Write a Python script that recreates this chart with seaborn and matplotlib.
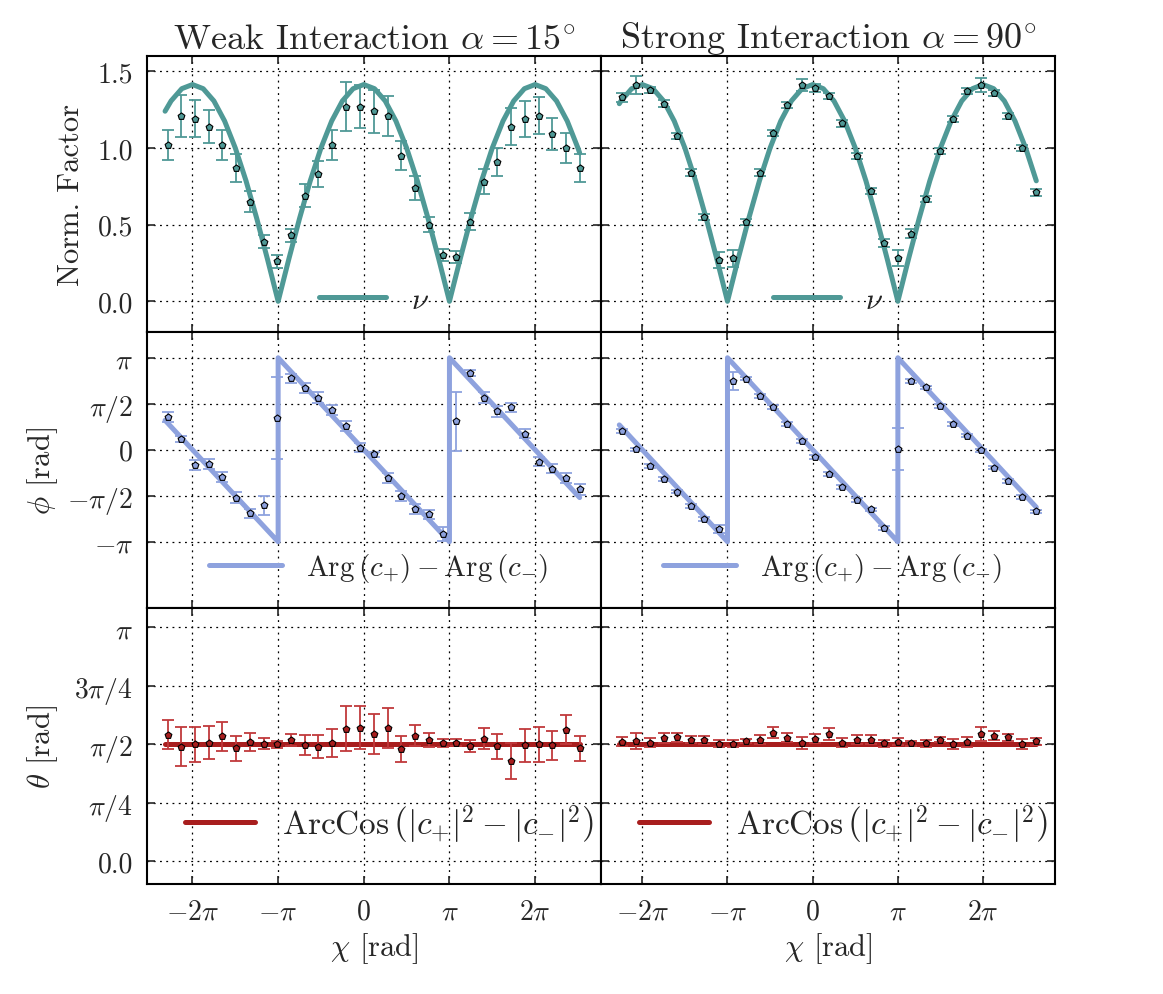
import matplotlib
matplotlib.use("Agg")
import matplotlib.pyplot as plt
import seaborn as sns

# chi positions of the measured points, in units of pi
chi_weak = [-2.29, -2.13, -1.97, -1.81, -1.65, -1.49, -1.33, -1.17, -1.01, -0.85, -0.69,
            -0.53, -0.37, -0.21, -0.05, 0.12, 0.28, 0.44, 0.60, 0.76, 0.92, 1.08,
            1.24, 1.40, 1.56, 1.72, 1.88, 2.04, 2.20, 2.36, 2.52]
chi_strong = [-2.24, -2.07, -1.91, -1.75, -1.59, -1.43, -1.27, -1.10, -0.94, -0.78, -0.62,
              -0.46, -0.30, -0.13, 0.03, 0.19, 0.35, 0.52, 0.68, 0.84, 1.00, 1.16,
              1.33, 1.49, 1.65, 1.81, 1.97, 2.13, 2.29, 2.46, 2.62]

# normalisation factor nu
nu_weak = [1.02, 1.21, 1.19, 1.14, 1.02, 0.87, 0.65, 0.39, 0.26, 0.43, 0.69,
           0.83, 1.02, 1.27, 1.27, 1.24, 1.21, 0.95, 0.74, 0.50, 0.30, 0.29,
           0.52, 0.78, 0.91, 1.14, 1.19, 1.21, 1.09, 1.00, 0.87]
nu_weak_err = [0.10, 0.135, 0.12, 0.11, 0.10, 0.09, 0.07, 0.04, 0.04, 0.045, 0.077,
               0.087, 0.10, 0.158, 0.14, 0.14, 0.13, 0.095, 0.08, 0.05, 0.04, 0.04,
               0.055, 0.083, 0.092, 0.12, 0.115, 0.12, 0.103, 0.097, 0.09]
nu_strong = [1.33, 1.41, 1.38, 1.29, 1.08, 0.84, 0.55, 0.27, 0.28, 0.52, 0.84,
             1.10, 1.28, 1.41, 1.39, 1.34, 1.16, 0.95, 0.72, 0.38, 0.28, 0.44,
             0.67, 0.98, 1.19, 1.37, 1.41, 1.36, 1.21, 1.00, 0.71]
nu_strong_err = [0.027, 0.06, 0.02, 0.02, 0.02, 0.02, 0.02, 0.05, 0.053, 0.02, 0.02,
                 0.02, 0.02, 0.04, 0.025, 0.02, 0.02, 0.02, 0.02, 0.025, 0.052, 0.03,
                 0.02, 0.02, 0.02, 0.02, 0.045, 0.02, 0.02, 0.02, 0.02]

# relative phase phi, in units of pi
phi_weak = [0.355, 0.114, -0.165, -0.154, -0.297, -0.524, -0.689, -0.604, 0.344, 0.777, 0.670,
            0.564, 0.436, 0.256, 0.022, -0.051, -0.308, -0.502, -0.645, -0.700, -0.916, 0.308,
            0.835, 0.564, 0.418, 0.462, 0.176, -0.128, -0.205, -0.308, -0.432]
phi_weak_err = [0.055, 0.03, 0.05, 0.05, 0.055, 0.06, 0.05, 0.10, 0.445, 0.05, 0.055,
                0.06, 0.055, 0.055, 0.05, 0.03, 0.05, 0.05, 0.05, 0.05, 0.077, 0.317,
                0.035, 0.06, 0.06, 0.05, 0.05, 0.05, 0.048, 0.05, 0.06]
phi_strong = [0.205, 0.004, -0.176, -0.315, -0.454, -0.612, -0.751, -0.861, 0.747, 0.773, 0.586,
              0.462, 0.278, 0.092, -0.081, -0.260, -0.407, -0.546, -0.648, -0.850, 0.011, 0.747,
              0.678, 0.476, 0.278, 0.154, -0.007, -0.194, -0.341, -0.513, -0.670]
phi_strong_err = [0.02, 0.02, 0.02, 0.02, 0.02, 0.02, 0.02, 0.045, 0.10, 0.02, 0.02,
                  0.02, 0.02, 0.02, 0.02, 0.02, 0.02, 0.02, 0.02, 0.02, 0.23, 0.02,
                  0.02, 0.02, 0.02, 0.02, 0.02, 0.02, 0.02, 0.02, 0.02]

# polar angle theta, in units of pi
theta_weak = [0.540, 0.490, 0.500, 0.507, 0.533, 0.482, 0.510, 0.503, 0.499, 0.517, 0.497,
              0.490, 0.504, 0.567, 0.571, 0.543, 0.568, 0.479, 0.536, 0.517, 0.507, 0.507,
              0.493, 0.524, 0.491, 0.429, 0.496, 0.499, 0.496, 0.561, 0.482]
theta_weak_err = [0.0625, 0.082, 0.075, 0.07, 0.062, 0.053, 0.04, 0.024, 0.016, 0.026, 0.044,
                  0.05, 0.06, 0.098, 0.092, 0.085, 0.085, 0.057, 0.045, 0.029, 0.017, 0.014,
                  0.027, 0.046, 0.053, 0.078, 0.07, 0.075, 0.062, 0.062, 0.053]
theta_strong = [0.511, 0.513, 0.507, 0.526, 0.530, 0.520, 0.518, 0.503, 0.503, 0.514, 0.520,
                0.550, 0.528, 0.504, 0.524, 0.544, 0.507, 0.520, 0.520, 0.504, 0.510, 0.504,
                0.504, 0.520, 0.501, 0.510, 0.545, 0.536, 0.530, 0.501, 0.513]
theta_strong_err = [0.02, 0.034, 0.02, 0.02, 0.02, 0.015, 0.015, 0.015, 0.015, 0.01, 0.02,
                    0.022, 0.02, 0.025, 0.02, 0.025, 0.02, 0.02, 0.02, 0.015, 0.015, 0.01,
                    0.015, 0.01, 0.02, 0.02, 0.03, 0.02, 0.015, 0.02, 0.015]

# theory curves (x in units of pi)
nu_line_x_weak = [-2.32, -2.25, -2.125, -2.0, -1.875, -1.75, -1.625, -1.5, -1.375, -1.25,
                  -1.125, -1.0, -0.875, -0.75, -0.625, -0.5, -0.375, -0.25, -0.125, 0.0,
                  0.125, 0.25, 0.375, 0.5, 0.625, 0.75, 0.875, 1.0, 1.125, 1.25, 1.375,
                  1.5, 1.625, 1.75, 1.875, 2.0, 2.125, 2.25, 2.375, 2.5, 2.52]
nu_line_y_weak = [1.24, 1.307, 1.387, 1.414, 1.387, 1.307, 1.176, 1.0, 0.786, 0.541,
                  0.276, 0.0, 0.276, 0.541, 0.786, 1.0, 1.176, 1.307, 1.387, 1.414,
                  1.387, 1.307, 1.176, 1.0, 0.786, 0.541, 0.276, 0.0, 0.276, 0.541, 0.786,
                  1.0, 1.176, 1.307, 1.387, 1.414, 1.387, 1.307, 1.176, 1.0, 0.968]
nu_line_x_strong = [-2.27, -2.25, -2.125, -2.0, -1.875, -1.75, -1.625, -1.5, -1.375, -1.25,
                    -1.125, -1.0, -0.875, -0.75, -0.625, -0.5, -0.375, -0.25, -0.125, 0.0,
                    0.125, 0.25, 0.375, 0.5, 0.625, 0.75, 0.875, 1.0, 1.125, 1.25, 1.375,
                    1.5, 1.625, 1.75, 1.875, 2.0, 2.125, 2.25, 2.375, 2.5, 2.625]
nu_line_y_strong = [1.289, 1.307, 1.387, 1.414, 1.387, 1.307, 1.176, 1.0, 0.786, 0.541,
                    0.276, 0.0, 0.276, 0.541, 0.786, 1.0, 1.176, 1.307, 1.387, 1.414,
                    1.387, 1.307, 1.176, 1.0, 0.786, 0.541, 0.276, 0.0, 0.276, 0.541, 0.786,
                    1.0, 1.176, 1.307, 1.387, 1.414, 1.387, 1.307, 1.176, 1.0, 0.786]
phi_line_x_weak = [-2.32, -1.0, -1.0, 1.0, 1.0, 2.52]
phi_line_y_weak = [0.32, -1.0, 1.0, -1.0, 1.0, -0.52]
phi_line_x_strong = [-2.27, -1.0, -1.0, 1.0, 1.0, 2.625]
phi_line_y_strong = [0.27, -1.0, 1.0, -1.0, 1.0, -0.625]
theta_line_x_weak = [-2.32, 2.52]
theta_line_x_strong = [-2.27, 2.625]
theta_line_y = [0.5, 0.5]

titles = [r"Weak Interaction $\alpha = 15^{\circ}$", r"Strong Interaction $\alpha = 90^{\circ}$"]
xticks = [-2, -1, 0, 1, 2]
xticklabels = [r"$-2\pi$", r"$-\pi$", r"$0$", r"$\pi$", r"$2\pi$"]

teal = "#4f9996"
blue = "#8ea2de"
red = "#a81e1e"
red_err = "#c0393b"

sns.set_style("ticks")
plt.rcParams.update({
    "font.family": "serif",
    "font.serif": ["cmr10", "DejaVu Serif"],
    "mathtext.fontset": "cm",
    "axes.unicode_minus": False,
    "axes.linewidth": 1.5,
    "axes.edgecolor": "black",
})

fig, axes = plt.subplots(3, 2, figsize=(11.63, 9.95), dpi=100)
fig.subplots_adjust(left=0.1264, right=0.9071, top=0.9427, bottom=0.1106,
                    wspace=0, hspace=0)

cols = [
    dict(chi=chi_weak, nu=nu_weak, nu_err=nu_weak_err, phi=phi_weak, phi_err=phi_weak_err,
         theta=theta_weak, theta_err=theta_weak_err,
         nu_lx=nu_line_x_weak, nu_ly=nu_line_y_weak,
         phi_lx=phi_line_x_weak, phi_ly=phi_line_y_weak, th_lx=theta_line_x_weak,
         xlim=(-2.531, 2.769)),
    dict(chi=chi_strong, nu=nu_strong, nu_err=nu_strong_err, phi=phi_strong, phi_err=phi_strong_err,
         theta=theta_strong, theta_err=theta_strong_err,
         nu_lx=nu_line_x_strong, nu_ly=nu_line_y_strong,
         phi_lx=phi_line_x_strong, phi_ly=phi_line_y_strong, th_lx=theta_line_x_strong,
         xlim=(-2.485, 2.844)),
]

fs = 20
lfs = 22


def draw_panel(ax, chi, y, yerr, lx, ly, color, ecolor, label):
    sns.lineplot(x=lx, y=ly, ax=ax, color=color, linewidth=3.6, sort=False,
                 estimator=None, label=label, zorder=2)
    ax.errorbar(chi, y, yerr=yerr, fmt="none", ecolor=ecolor, elinewidth=1.3,
                capsize=4.5, capthick=1.3, zorder=3)
    sns.scatterplot(x=chi, y=y, ax=ax, marker="p", s=26, color=color,
                    edgecolor="black", linewidth=0.8, zorder=4, legend=False)


for j, c in enumerate(cols):
    ax_nu, ax_phi, ax_th = axes[0, j], axes[1, j], axes[2, j]
    draw_panel(ax_nu, c["chi"], c["nu"], c["nu_err"], c["nu_lx"], c["nu_ly"],
               teal, teal, r"$\nu$")
    draw_panel(ax_phi, c["chi"], c["phi"], c["phi_err"], c["phi_lx"], c["phi_ly"],
               blue, blue, r"$\mathrm{Arg}\,(c_{+}) - \mathrm{Arg}\,(c_{-})$")
    draw_panel(ax_th, c["chi"], c["theta"], c["theta_err"], c["th_lx"], theta_line_y,
               red, red_err,
               r"$\mathrm{ArcCos}\,\left(|c_{+}|^{2} - |c_{-}|^{2}\right)$")

    ax_nu.set_ylim(-0.2, 1.6)
    ax_nu.set_yticks([0.0, 0.5, 1.0, 1.5])
    ax_phi.set_ylim(-1.72, 1.28)
    ax_phi.set_yticks([-1, -0.5, 0, 0.5, 1])
    ax_th.set_ylim(-0.097, 1.082)
    ax_th.set_yticks([0, 0.25, 0.5, 0.75, 1.0])

    for i, ax in enumerate((ax_nu, ax_phi, ax_th)):
        ax.set_xlim(*c["xlim"])
        ax.set_xticks(xticks)
        ax.grid(True, linestyle=(0, (1.5, 3.5)), color="black", linewidth=0.9)
        ax.tick_params(direction="in", top=True, right=True, length=6, width=1.2,
                       labelsize=fs, pad=10)
        ax.set_xlabel("")
        ax.set_ylabel("")
        if i < 2:
            ax.set_xticklabels([])
        else:
            ax.set_xticklabels(xticklabels)
            ax.set_xlabel(r"$\chi$ [rad]", fontsize=lfs)
        if j == 1:
            ax.set_yticklabels([])

    ax_nu.legend(loc="lower center", bbox_to_anchor=(0.5, -0.035), frameon=False,
                 fontsize=fs + 2, handlelength=2.2, handletextpad=0.8)
    ax_phi.legend(loc="lower center", bbox_to_anchor=(0.51, -0.01), frameon=False,
                  fontsize=fs + 1, handlelength=2.5, handletextpad=0.8)
    ax_th.legend(loc="lower center", bbox_to_anchor=(0.535, 0.03), frameon=False,
                 fontsize=fs + 4, handlelength=2.1, handletextpad=0.8)
    ax_nu.set_title(titles[j], fontsize=26, pad=5)

axes[0, 0].set_yticklabels(["0.0", "0.5", "1.0", "1.5"])
axes[1, 0].set_yticklabels([r"$-\pi$", r"$-\pi/2$", r"$0$", r"$\pi/2$", r"$\pi$"])
axes[2, 0].set_yticklabels(["0.0", r"$\pi/4$", r"$\pi/2$", r"$3\pi/4$", r"$\pi$"])
axes[0, 0].set_ylabel("Norm. Factor", fontsize=lfs)
axes[1, 0].set_ylabel(r"$\phi$ [rad]", fontsize=lfs)
axes[2, 0].set_ylabel(r"$\theta$ [rad]", fontsize=lfs)
axes[0, 0].yaxis.set_label_coords(-0.137, 0.5)
axes[1, 0].yaxis.set_label_coords(-0.192, 0.5)
axes[2, 0].yaxis.set_label_coords(-0.192, 0.5)

fig.savefig("out.png", dpi=100)
